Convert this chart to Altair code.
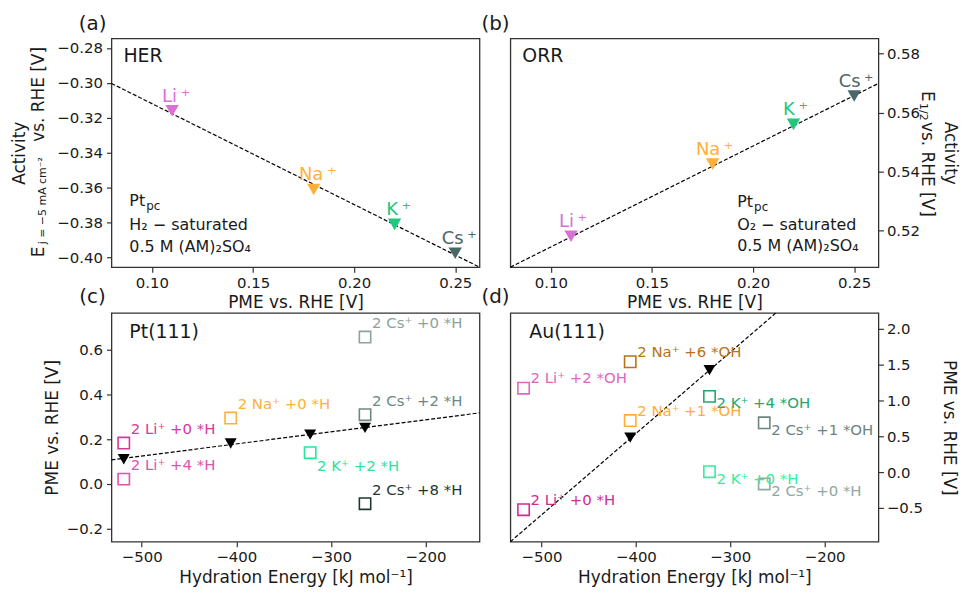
import altair as alt
import pandas as pd

FONT = "DejaVu Sans"
TXT = "#1a1a1a"

# ---------------- data: panels (a) and (b) (polycrystalline Pt) -------------
ions = ["Li", "Na", "K", "Cs"]
ion_labels = ["Li\u2009⁺", "Na\u2009⁺", "K\u2009⁺", "Cs\u2009⁺"]
ion_colors = ["#da6fd6", "#ffb03b", "#22c77e", "#4b6868"]
pme_pc = [0.11, 0.18, 0.22, 0.25]
her_activity = [-0.316, -0.361, -0.381, -0.3975]
orr_activity = [0.518, 0.5425, 0.556, 0.5656]
her_fit_x = [0.08, 0.262]
her_fit_y = [-0.3003, -0.4055]
orr_fit_x = [0.08, 0.262]
orr_fit_y = [0.5075, 0.5699]

# ---------------- data: panel (c) Pt(111) ----------------------------------
hyd_energy = [-519, -406, -322, -264]
pt_fit_x = [-532, -143]
pt_fit_y = [0.107, 0.317]
pt_labels = ["2 Li⁺ +0 *H", "2 Li⁺ +4 *H", "2 Na⁺ +0 *H", "2 K⁺ +2 *H",
             "2 Cs⁺ +0 *H", "2 Cs⁺ +2 *H", "2 Cs⁺ +8 *H"]
pt_energy = [-519, -519, -406, -322, -264, -264, -264]
pt_pme = [0.182, 0.021, 0.294, 0.139, 0.656, 0.309, -0.089]
pt_side = ["above", "above", "above", "below", "above", "above", "above"]
pt_colors = ["#d6399a", "#e052ad", "#ffb03b", "#2be39a", "#8ca39c", "#6d8882", "#1f3733"]

# ---------------- data: panel (d) Au(111) ----------------------------------
au_tri_energy = [-406, -322]
au_tri_pme = [0.481, 1.424]
au_fit_x = [-533, -251.6]
au_fit_y = [-0.97, 2.221]
au_labels = ["2 Li⁺ +2 *OH", "2 Li⁺ +0 *H", "2 Na⁺ +6 *OH", "2 Na⁺ +1 *OH",
             "2 K⁺ +4 *OH", "2 K⁺ +0 *H", "2 Cs⁺ +1 *OH", "2 Cs⁺ +0 *H"]
au_energy = [-519, -519, -406, -406, -322, -322, -264, -264]
au_pme = [1.171, -0.523, 1.54, 0.72, 1.057, 0.007, 0.688, -0.164]
au_side = ["above", "above", "above", "above", "below", "below", "below", "below"]
au_colors = ["#e065c0", "#d22b8f", "#b87218", "#ffae35", "#20a86a", "#2ef0a0", "#6b8580", "#90a8a2"]

W, H = 370, 230
LINE = dict(color="black", strokeDash=[4, 2], strokeWidth=1.2)


def txt(text, x, y, size, **kw):
    return alt.Chart(pd.DataFrame({"t": [text]})).mark_text(
        font=FONT, fontSize=size, color=kw.pop("color", TXT), **kw
    ).encode(text="t:N", x=alt.value(x), y=alt.value(y))


def fit(xs, ys, xe, ye):
    return alt.Chart(pd.DataFrame({"x": xs, "y": ys})).mark_line(**LINE).encode(x=xe, y=ye)


# ---------------- panel (a) -------------------------------------------------
xa = alt.X("x:Q", scale=alt.Scale(domain=[0.08, 0.262], nice=False, zero=False),
           axis=alt.Axis(title="PME vs. RHE [V]", values=[0.10, 0.15, 0.20, 0.25], format=".2f"))
ya = alt.Y("y:Q", scale=alt.Scale(domain=[-0.4055, -0.2745], nice=False, zero=False),
           axis=alt.Axis(title="Activity", values=[-0.40, -0.38, -0.36, -0.34, -0.32, -0.30, -0.28],
                         format=".2f", titlePadding=28))
ca = alt.Color("ion:N", scale=alt.Scale(domain=ions, range=ion_colors), legend=None)
df_a = pd.DataFrame({"x": pme_pc, "y": her_activity, "ion": ions, "label": ion_labels})
pa = alt.layer(
    fit(her_fit_x, her_fit_y, xa, ya),
    alt.Chart(df_a).mark_point(shape="triangle-down", filled=True, size=180, opacity=1).encode(x=xa, y=ya, color=ca),
    alt.Chart(df_a).mark_text(font=FONT, fontSize=18, align="center", baseline="alphabetic", dx=4, dy=-9).encode(
        x=xa, y=ya, text="label:N", color=ca),
    txt("(a)", -19, -14, 20, align="center", baseline="middle"),
    txt("HER", 12, 18, 19, align="left", baseline="middle"),
    txt("Pt", 18, 164, 16, align="left", baseline="middle"),
    txt("pc", 35, 169, 12, align="left", baseline="middle"),
    txt("H₂ − saturated", 18, 188, 16, align="left", baseline="middle"),
    txt("0.5 M (AM)₂SO₄", 18, 210, 16, align="left", baseline="middle"),
    txt("E", -73, 220, 17, align="left", baseline="middle", angle=270),
    txt("j = −5 mA cm⁻²", -69, 207, 11, align="left", baseline="middle", angle=270),
    txt("vs. RHE [V]", -73, 104, 17, align="left", baseline="middle", angle=270),
).properties(width=W, height=H)

# ---------------- panel (b) -------------------------------------------------
xb = alt.X("x:Q", scale=alt.Scale(domain=[0.08, 0.262], nice=False, zero=False),
           axis=alt.Axis(title="PME vs. RHE [V]", values=[0.10, 0.15, 0.20, 0.25], format=".2f"))
yb = alt.Y("y:Q", scale=alt.Scale(domain=[0.5075, 0.5852], nice=False, zero=False),
           axis=alt.Axis(title="Activity", orient="right", values=[0.52, 0.54, 0.56, 0.58],
                         format=".2f", titlePadding=21))
df_b = pd.DataFrame({"x": pme_pc, "y": orr_activity, "ion": ions, "label": ion_labels})
pb = alt.layer(
    fit(orr_fit_x, orr_fit_y, xb, yb),
    alt.Chart(df_b).mark_point(shape="triangle-down", filled=True, size=180, opacity=1).encode(x=xb, y=yb, color=ca),
    alt.Chart(df_b).mark_text(font=FONT, fontSize=18, align="center", baseline="alphabetic", dx=2, dy=-9).encode(
        x=xb, y=yb, text="label:N", color=ca),
    txt("(b)", -15, -14, 20, align="center", baseline="middle"),
    txt("ORR", 12, 18, 19, align="left", baseline="middle"),
    txt("Pt", 228, 165, 16, align="left", baseline="middle"),
    txt("pc", 245, 170, 12, align="left", baseline="middle"),
    txt("O₂ − saturated", 228, 188, 16, align="left", baseline="middle"),
    txt("0.5 M (AM)₂SO₄", 228, 209, 16, align="left", baseline="middle"),
    txt("E", 419, 53, 17, align="left", baseline="middle", angle=90),
    txt("1/2", 415, 65, 11, align="left", baseline="middle", angle=90),
    txt("vs. RHE [V]", 419, 84, 17, align="left", baseline="middle", angle=90),
).properties(width=W, height=H)

# ---------------- panel (c) -------------------------------------------------
xc = alt.X("x:Q", scale=alt.Scale(domain=[-532, -143], nice=False, zero=False),
           axis=alt.Axis(title="Hydration Energy [kJ mol⁻¹]", values=[-500, -400, -300, -200], format="d"))
yc = alt.Y("y:Q", scale=alt.Scale(domain=[-0.259, 0.764], nice=False, zero=False),
           axis=alt.Axis(title="PME vs. RHE [V]", values=[-0.2, 0.0, 0.2, 0.4, 0.6], format=".1f",
                         titlePadding=5))
cc = alt.Color("label:N", scale=alt.Scale(domain=pt_labels, range=pt_colors), legend=None)
df_c = pd.DataFrame({"x": pt_energy, "y": pt_pme, "label": pt_labels, "side": pt_side})
df_ct = pd.DataFrame({"x": hyd_energy, "y": pme_pc})
pc = alt.layer(
    fit(pt_fit_x, pt_fit_y, xc, yc),
    alt.Chart(df_ct).mark_point(shape="triangle-down", filled=True, size=145, opacity=1, color="black").encode(x=xc, y=yc),
    alt.Chart(df_c).mark_point(shape="square", filled=False, size=130, strokeWidth=1.6, opacity=1).encode(
        x=xc, y=yc, color=cc),
    alt.Chart(df_c).transform_filter("datum.side == 'above'").mark_text(
        font=FONT, fontSize=15, align="left", baseline="alphabetic", dx=7, dy=-9).encode(
        x=xc, y=yc, text="label:N", color=cc),
    alt.Chart(df_c).transform_filter("datum.side == 'below'").mark_text(
        font=FONT, fontSize=15, align="left", baseline="alphabetic", dx=7, dy=18).encode(
        x=xc, y=yc, text="label:N", color=cc),
    txt("(c)", -19, -16, 20, align="center", baseline="middle"),
    txt("Pt(111)", 18, 19, 19, align="left", baseline="middle"),
).properties(width=W, height=H)

# ---------------- panel (d) -------------------------------------------------
xd = alt.X("x:Q", scale=alt.Scale(domain=[-533, -143], nice=False, zero=False),
           axis=alt.Axis(title="Hydration Energy [kJ mol⁻¹]", values=[-500, -400, -300, -200], format="d"))
yd = alt.Y("y:Q", scale=alt.Scale(domain=[-0.97, 2.221], nice=False, zero=False),
           axis=alt.Axis(title="PME vs. RHE [V]", orient="right", values=[-0.5, 0.0, 0.5, 1.0, 1.5, 2.0],
                         format=".1f", titlePadding=17))
cd = alt.Color("label:N", scale=alt.Scale(domain=au_labels, range=au_colors), legend=None)
df_d = pd.DataFrame({"x": au_energy, "y": au_pme, "label": au_labels, "side": au_side})
df_dt = pd.DataFrame({"x": au_tri_energy, "y": au_tri_pme})
pd_ = alt.layer(
    fit(au_fit_x, au_fit_y, xd, yd),
    alt.Chart(df_dt).mark_point(shape="triangle-down", filled=True, size=145, opacity=1, color="black").encode(x=xd, y=yd),
    alt.Chart(df_d).mark_point(shape="square", filled=False, size=130, strokeWidth=1.6, opacity=1).encode(
        x=xd, y=yd, color=cd),
    alt.Chart(df_d).transform_filter("datum.side == 'above'").mark_text(
        font=FONT, fontSize=15, align="left", baseline="alphabetic", dx=7, dy=-5).encode(
        x=xd, y=yd, text="label:N", color=cd),
    alt.Chart(df_d).transform_filter("datum.side == 'below'").mark_text(
        font=FONT, fontSize=15, align="left", baseline="alphabetic", dx=7, dy=12).encode(
        x=xd, y=yd, text="label:N", color=cd),
    txt("(d)", -15, -16, 20, align="center", baseline="middle"),
    txt("Au(111)", 19, 19, 19, align="left", baseline="middle"),
).properties(width=W, height=H)

chart = alt.concat(pa, pb, pc, pd_, columns=2, spacing={"row": 46, "column": 31}).properties(
    bounds="flush",
    padding={"left": 2, "top": 4, "right": 0, "bottom": 0},
).resolve_scale(color="independent").configure_view(
    stroke="#333333", strokeWidth=1.3
).configure_axis(
    domain=False, grid=False, ticks=True, tickColor="#333333", tickSize=5, tickWidth=1.2,
    labelFont=FONT, labelFontSize=15, labelColor=TXT, labelPadding=3,
    titleFont=FONT, titleFontSize=17, titleFontWeight="normal", titleColor=TXT,
).configure_axisLeft(labelPadding=4).configure_axisBottom(titlePadding=5)

chart.save("out.html", embed_options={"renderer": "svg", "actions": False})
